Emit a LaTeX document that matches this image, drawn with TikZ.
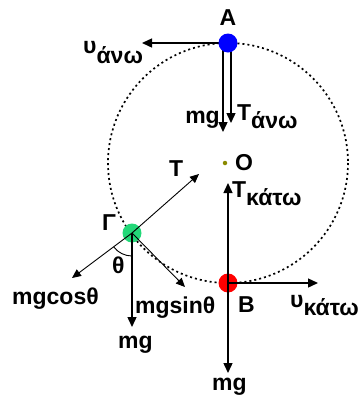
\documentclass[tikz,border=0pt]{standalone}
\usepackage{fontspec}
\setmainfont{Liberation Sans}
\usetikzlibrary{arrows.meta,backgrounds}
\definecolor{ballgreen}{HTML}{22D878}
\definecolor{odot}{HTML}{8A8A00}
\begin{document}
\begin{tikzpicture}[x=1pt,y=-1pt,
  lab/.style={font=\fontsize{23}{26}\selectfont\bfseries, inner sep=0pt},
  ball/.style={circle, minimum size=19pt, inner sep=0pt},
  force/.style={line width=1.4pt, -{Triangle[length=10pt,width=9pt]}},
  thinforce/.style={line width=0.9pt, -{Triangle[length=9pt,width=8pt]}},
  orbit/.style={line width=1.7pt, dash pattern=on 2pt off 3pt}]
\useasboundingbox (0,0) rectangle (364,400);
\coordinate (O) at (228,163);
% balls
\node[ball, fill=blue] (A) at (228,43) {};
\node[ball, fill=red] (B) at (228,283) {};
\node[ball, fill=ballgreen] (G) at (132,233) {};
% free ends
\coordinate (vA) at (142,43);
\coordinate (mgA) at (223,132);
\coordinate (TA) at (231,123);
\coordinate (TB) at (228,183);
\coordinate (mgB) at (228,373);
\coordinate (vB) at (318,283);
\coordinate (TG) at (199,174);
\coordinate (cosG) at (72,278);
\coordinate (sinG) at (185,287);
\coordinate (mgG) at (132,327);
\begin{scope}[on background layer]
\draw[orbit] (O) circle[radius=120];
\draw[force] (A.center) -- (vA);
\draw[force] (mgA |- A.center) -- (mgA);
\draw[force] (TA |- A.center) -- (TA);
\end{scope}
% forces at B
\draw[force] (B.center) -- (TB);
\draw[force] (B.center) -- (mgB);
\draw[force] (B.center) -- (vB);
% forces at Gamma
\draw[thinforce] (G.center) -- (TG);
\draw[thinforce] (G.center) -- (cosG);
\draw[thinforce] (G.center) -- (sinG);
\draw[force] (G.center) -- (mgG);
\draw[line width=0.9pt] (G.center) ++(90:23) arc[start angle=90, end angle=143, radius=23];
% centre
\node[circle, fill=odot, minimum size=4.5pt, inner sep=0pt] (Odot) at (225,163) {};
% labels
\node[lab, anchor=base] (lA) at (228,25) {A};
\node[lab, anchor=base west] (lvA) at (83,53) {υ\raisebox{-10pt}{άνω}};
\node[lab, anchor=base east] (lmgA) at (220,123) {mg};
\node[lab, anchor=base west] (lTA) at (237,120) {T\raisebox{-8pt}{άνω}};
\node[lab, anchor=base west] (lO) at (235,170) {O};
\node[lab, anchor=base west] (lTB) at (232,197) {T\raisebox{-8pt}{κάτω}};
\node[lab, anchor=base west] (lT) at (169,176) {T};
\node[lab, anchor=base west] (lG) at (102,230) {Γ};
\node[lab, anchor=base west] (lth) at (112,273) {θ};
\node[lab, anchor=base west] (lcos) at (12,304) {mgcosθ};
\node[lab, anchor=base west] (lsin) at (135,313) {mgsinθ};
\node[lab, anchor=base west] (lmgG) at (118,348) {mg};
\node[lab, anchor=base west] (lB) at (238,312) {B};
\node[lab, anchor=base west] (lvB) at (290,307) {υ\raisebox{-8pt}{κάτω}};
\node[lab, anchor=base west] (lmgB) at (212,390) {mg};
\end{tikzpicture}
\end{document}
